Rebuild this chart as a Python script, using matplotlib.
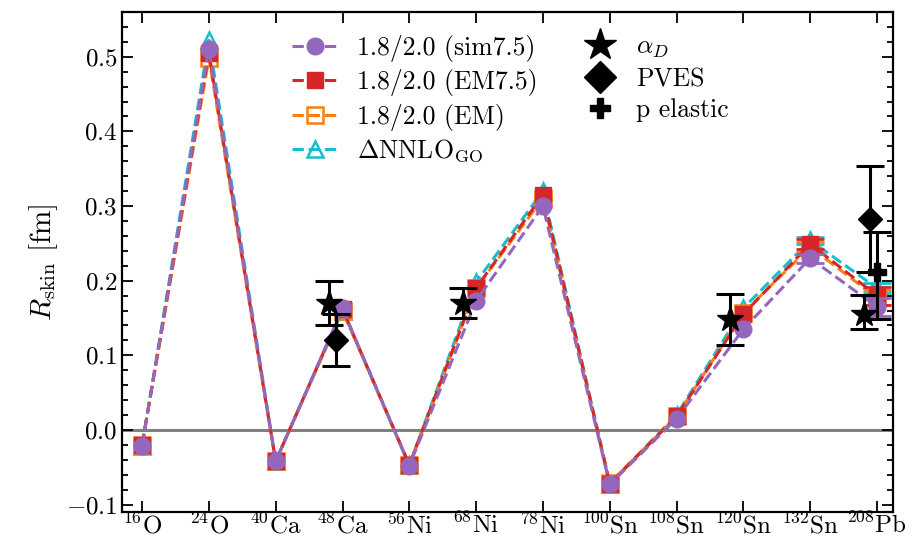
import matplotlib
matplotlib.use('Agg')
import matplotlib.pyplot as plt
from matplotlib.lines import Line2D
import numpy as np

plt.rcParams['mathtext.fontset'] = 'cm'
plt.rcParams['font.family'] = 'serif'
plt.rcParams['font.serif'] = ['cmr10']
plt.rcParams['axes.formatter.use_mathtext'] = True
plt.rcParams['axes.unicode_minus'] = True

nuclei = [r'$^{16}$O', r'$^{24}$O', r'$^{40}$Ca', r'$^{48}$Ca', r'$^{56}$Ni', r'$^{68}$Ni',
          r'$^{78}$Ni', r'$^{100}$Sn', r'$^{108}$Sn', r'$^{120}$Sn', r'$^{132}$Sn', r'$^{208}$Pb']

# theory: skin thickness and uncertainty
sim75 = [-0.021, 0.511, -0.042, 0.163, -0.048, 0.173, 0.300, -0.073, 0.015, 0.135, 0.230, 0.165]
sim75_err = [0, 0, 0, 0, 0, 0, 0, 0, 0, 0, 0.006, 0.012]
em75 = [-0.020, 0.505, -0.042, 0.162, -0.047, 0.190, 0.315, -0.072, 0.018, 0.155, 0.249, 0.180]
em75_err = [0, 0, 0, 0, 0, 0, 0, 0, 0, 0, 0.007, 0.012]
em = [-0.020, 0.498, -0.042, 0.160, -0.047, 0.190, 0.310, -0.071, 0.018, 0.157, 0.245, 0.177]
em_err = [0, 0, 0, 0, 0, 0, 0, 0, 0, 0, 0.007, 0.010]
nnlo = [-0.021, 0.522, -0.042, 0.160, -0.047, 0.198, 0.320, -0.072, 0.020, 0.163, 0.254, 0.190]
nnlo_err = [0, 0, 0, 0, 0, 0, 0, 0, 0, 0, 0.005, 0.007]

# experiment
aD_idx = [3, 5, 9, 11]
aD_val = [0.17, 0.17, 0.148, 0.156]
aD_lo = [0.03, 0.02, 0.034, 0.021]
aD_hi = [0.03, 0.02, 0.034, 0.025]
pves_idx = [3, 11]
pves_val = [0.121, 0.283]
pves_err = [0.035, 0.071]
pel_idx = [11]
pel_val = [0.211]
pel_lo = [0.063]
pel_hi = [0.054]

x = np.arange(len(nuclei))

fig = plt.figure(figsize=(9.21, 5.38), dpi=100)
ax = fig.add_axes([0.1325, 0.0483, 0.8371, 0.9294])

ax.axhline(0.0, color='grey', lw=2.2, zorder=0)

series = [
    (sim75, sim75_err, '#9467bd', 'o', 'full', '1.8/2.0 (sim7.5)', 6),
    (em75, em75_err, '#d62728', 's', 'full', '1.8/2.0 (EM7.5)', 5),
    (em, em_err, '#ff7f0e', 's', 'none', '1.8/2.0 (EM)', 4),
    (nnlo, nnlo_err, '#17becf', '^', 'none', r'$\Delta$NNLO$_{\rm GO}$', 3),
]
handles = []
for vals, errs, col, mk, fill, lab, z in series:
    vals = np.array(vals)
    errs = np.array(errs)
    if fill == 'none':
        h, = ax.plot(x, vals, ls='--', lw=2.2, color=col, marker=mk, ms=12,
                     mfc='none', mec=col, mew=1.8, label=lab, zorder=z)
    else:
        h, = ax.plot(x, vals, ls='--', lw=2.2, color=col, marker=mk, ms=12,
                     label=lab, zorder=z)
    m = errs > 0
    ax.errorbar(x[m], vals[m], yerr=errs[m], fmt='none', ecolor=col, elinewidth=2,
                capsize=10, capthick=2, zorder=z)
    handles.append(h)

ax.errorbar(np.array(aD_idx) - 0.2, aD_val, yerr=[aD_lo, aD_hi], fmt='*', color='k',
            ms=19, elinewidth=2.2, capsize=10, capthick=2.2, zorder=7)
ax.errorbar(np.array(pves_idx) - 0.1, pves_val, yerr=pves_err, fmt='D', color='k',
            ms=12, elinewidth=2.2, capsize=10, capthick=2.2, zorder=7)
ax.errorbar(np.array(pel_idx), pel_val, yerr=[pel_lo, pel_hi], fmt='P', color='k',
            ms=13, elinewidth=2.2, capsize=10, capthick=2.2, zorder=7)

ex = [Line2D([], [], ls='none', marker='*', color='k', ms=24, label=r'$\alpha_D$'),
      Line2D([], [], ls='none', marker='D', color='k', ms=16, label='PVES'),
      Line2D([], [], ls='none', marker='P', color='k', ms=15, label='p elastic')]

ax.set_xlim(-0.3, 11.24)
ax.set_ylim(-0.11, 0.56)
ax.set_xticks(x)
ax.set_xticklabels(nuclei, fontsize=18)
ax.set_yticks([-0.1, 0.0, 0.1, 0.2, 0.3, 0.4, 0.5])
ax.set_yticks(np.arange(-0.10, 0.56, 0.02), minor=True)
ax.tick_params(axis='y', labelsize=18)
ax.tick_params(which='both', direction='in', top=True, right=True, width=1.3)
ax.tick_params(which='major', length=8)
ax.tick_params(which='minor', length=4)
ax.tick_params(axis='x', which='minor', bottom=False, top=False)
ax.tick_params(axis='x', pad=0.5)
for s in ax.spines.values():
    s.set_linewidth(1.6)
ax.set_ylabel(r'$R_{\rm skin}$ [fm]', fontsize=21)

leg1 = ax.legend(handles=handles, loc='upper left', bbox_to_anchor=(0.19, 1.0), frameon=False,
                 fontsize=18.5, handlelength=1.8, handletextpad=0.75, labelspacing=0.28)
ax.add_artist(leg1)
ax.legend(handles=ex, loc='upper left', bbox_to_anchor=(0.57, 1.0), frameon=False,
          fontsize=18.5, handlelength=1.2, handletextpad=0.8, labelspacing=0.28)

fig.savefig('out.png', dpi=100)
